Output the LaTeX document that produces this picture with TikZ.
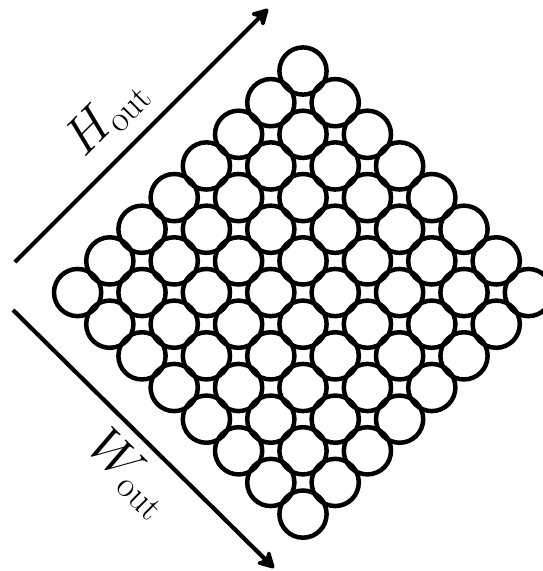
\RequirePackage{fix-cm}
\documentclass[tikz,border=0pt]{standalone}
\usepackage{amsmath,amssymb}
\usepackage{tikz}
\usetikzlibrary{arrows.meta,positioning}

\begin{document}
\begin{tikzpicture}[
  x=0.5pt, y=-0.5pt,
  celula/.style={draw, circle, line width=2.25pt, inner sep=0pt, outer sep=0pt,
                 minimum size=23.6pt},
  eixo/.style={-{Stealth[length=10pt, width=11pt, inset=3pt, round]}, line width=2.1pt},
  rotulo/.style={font=\fontsize{26}{30}\selectfont, inner sep=0pt}
]
\useasboundingbox (0,0) rectangle (542,571);
\foreach \i in {0,...,7} {
  \foreach \j in {0,...,7} {
    \node[celula] (c-\i-\j) at ({303+(\j-\i)*32.2}, {71+(\i+\j)*31.65}) {};
  }
}
\coordinate (hini) at (15,262);
\coordinate (hfim) at (268,9);
\coordinate (wini) at (13,310);
\coordinate (wfim) at (274,568);
\draw[eixo] (hini) -- node[rotulo, pos=0.47, above=7pt, sloped] (hrot) {$H_{\mathrm{out}}$} (hfim);
\draw[eixo] (wini) -- node[rotulo, pos=0.54, below=5pt, sloped] (wrot) {$W_{\mathrm{out}}$} (wfim);
\end{tikzpicture}
\end{document}
